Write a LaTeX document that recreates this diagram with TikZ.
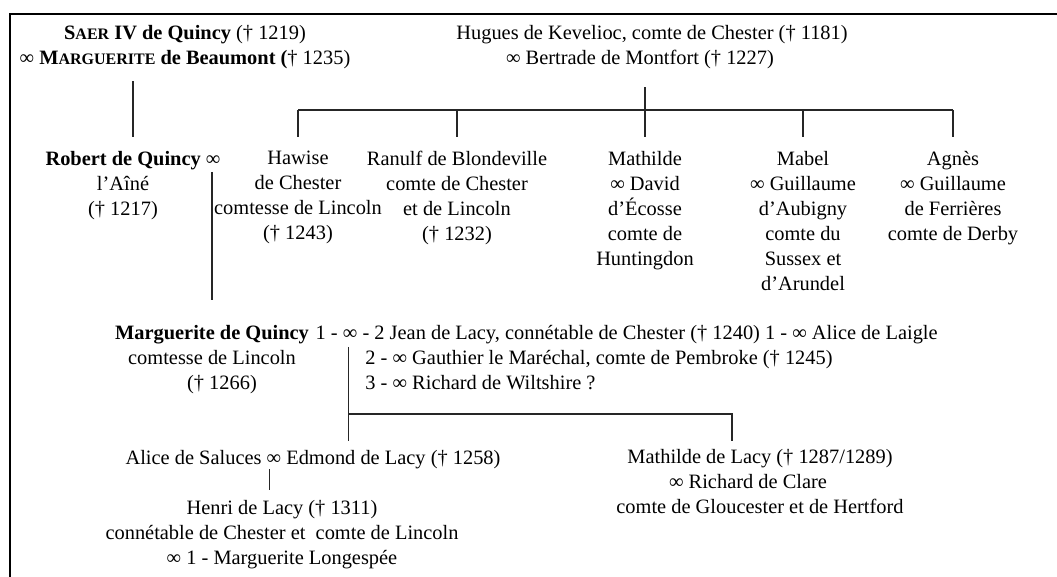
\documentclass[tikz,border=0pt]{standalone}
\usepackage{fontspec}
\setmainfont{Liberation Serif}
\usetikzlibrary{positioning}
\newcommand{\petcap}[2]{#1{\fontsize{8}{10}\selectfont #2}}
\tikzset{person/.style={align=center, inner sep=0pt, anchor=north, font=\fontsize{10.2}{12.5}\selectfont}}
\tikzset{spouse/.style={align=left, inner sep=0pt, anchor=north west, font=\fontsize{10.2}{12.5}\selectfont}}
\tikzset{line/.style={draw, line width=0.6pt, black!85}}
\tikzset{frame/.style={draw, line width=1pt}}

\begin{document}
\begin{tikzpicture}[x=0.5pt, y=-0.5pt]
        \useasboundingbox (0,0) rectangle (1057,577);
        \path[frame] (10,577) -- (10,14) -- (1057,14);

        % parents
        \node[person] (saer) at (185,25) {\textbf{\petcap{S}{AER} IV de Quincy} († 1219)\\ ∞ \textbf{\petcap{M}{ARGUERITE} de Beaumont (}† 1235)};
        \node[person] (hugues) at (652,25) {Hugues de Kevelioc, comte de Chester († 1181)\\ ∞ Bertrade de Montfort († 1227)\kern12pt};

        % children
        \node[person] (robert) at (133,151) {\textbf{Robert de Quincy} ∞\\ l’Aîné\kern10pt\\ († 1217)\kern10pt};
        \node[person] (hawise) at (298,151) {Hawise\\ de Chester\\ comtesse de Lincoln\\ († 1243)};
        \node[person] (ranulf) at (457,151) {Ranulf de Blondeville\\ comte de Chester\\ et de Lincoln\\ († 1232)};
        \node[person] (mathilde) at (645,151) {Mathilde\\ ∞ David\\ d’Écosse\\ comte de\\ Huntingdon};
        \node[person] (mabel) at (803,151) {Mabel\\ ∞ Guillaume\\ d’Aubigny\\ comte du\\ Sussex et\\ d’Arundel};
        \node[person] (agnes) at (953,151) {Agnès\\ ∞ Guillaume\\ de Ferrières\\ comte de Derby};
        \coordinate (bus) at (0,110);

        % Marguerite and her husbands
        \node[person] (marguerite) at (212,325) {\textbf{Marguerite de Quincy}\\ comtesse de Lincoln\\ \kern10pt(† 1266)};
        \node[spouse, right=3pt of marguerite.north east, anchor=north west] (jean) {1 - ∞ - 2 Jean de Lacy, connétable de Chester († 1240) 1 - ∞ Alice de Laigle};
        \node[spouse] (gauthier) at (365,350) {2 - ∞ Gauthier le Maréchal, comte de Pembroke († 1245)\\ 3 - ∞ Richard de Wiltshire ?};
        \coordinate (wed) at ([xshift=16.5pt, yshift=-11pt]jean.north west);
        \coordinate (kids) at (0,414);

        % grandchildren
        \node[person] (edmond) at (313,450) {Alice de Saluces ∞ Edmond de Lacy († 1258)};
        \node[person] (henri) at (282,500) {Henri de Lacy († 1311)\\ connétable de Chester et~ comte de Lincoln\\ ∞ 1 - Marguerite Longespée};
        \node[person] (mathlacy) at (760,449) {Mathilde de Lacy († 1287/1289)\\ ∞ Richard de Clare\kern12pt\\ comte de Gloucester et de Hertford};
        \coordinate (alice) at ([xshift=72pt]edmond.south west);

        \path[line] ([yshift=-6pt]saer.south -| robert.north) -- ([yshift=7pt]robert.north);
        \path[line] ([yshift=-9pt]hugues.south -| mathilde.north) -- (mathilde.north |- bus);
        \path[line] (hawise.north |- bus) -- (agnes.north |- bus);
        \path[line] (hawise.north |- bus) -- ([yshift=7pt]hawise.north);
        \path[line] (ranulf.north |- bus) -- ([yshift=7pt]ranulf.north);
        \path[line] (mathilde.north |- bus) -- ([yshift=7pt]mathilde.north);
        \path[line] (mabel.north |- bus) -- ([yshift=7pt]mabel.north);
        \path[line] (agnes.north |- bus) -- ([yshift=7pt]agnes.north);
        \path[line] ([yshift=-10.5pt]robert.north -| marguerite.north) -- ([yshift=12.5pt]marguerite.north);
        \path[line, shorten >=4.5pt] (wed) -- (wed |- edmond.north);
        \path[line] (wed |- kids) -- ([xshift=-14pt]mathlacy.north |- kids) -- ([xshift=-14pt, yshift=4pt]mathlacy.north);
        \path[line, shorten >=5pt] (alice) -- (alice |- henri.north);

\end{tikzpicture}
\end{document}
